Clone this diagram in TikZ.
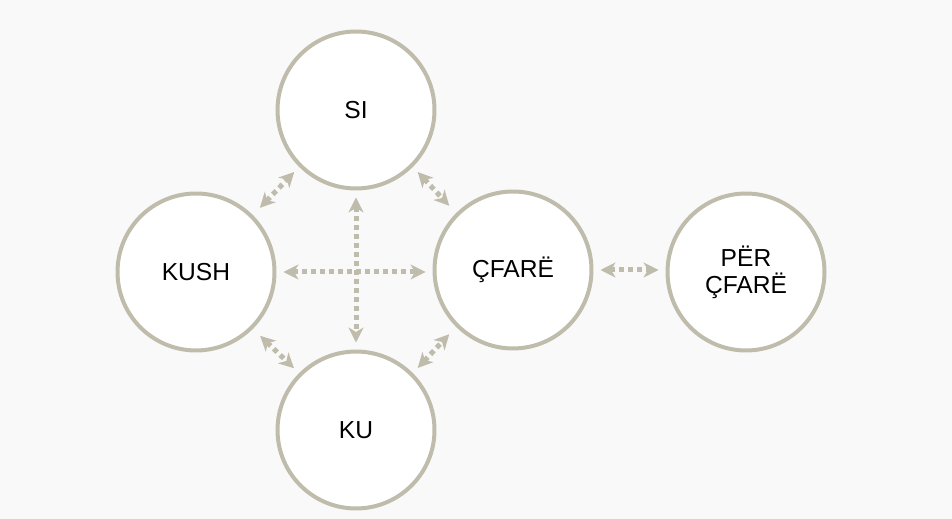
\documentclass[tikz,border=0pt]{standalone}
\usepackage{fontspec}
\setmainfont{Liberation Sans}
\usepackage{xcolor}
\usepackage{tikz}
\usetikzlibrary{arrows.meta}

\definecolor{ring}{RGB}{191,188,172}
\definecolor{paper}{RGB}{249,249,249}

\begin{document}
\begin{tikzpicture}[x=0.02cm, y=-0.02cm,
    word/.style={circle, draw=ring, fill=white, line width=0.08cm, minimum size=3.14cm,
      inner sep=0pt, align=center, font=\fontsize{14}{15.5}\selectfont},
    link/.style={draw=ring, line width=0.1cm, dash pattern=on 0.1cm off 0.08cm,
      {Stealth[length=8.5pt, width=8.5pt, inset=2.5pt]}-{Stealth[length=8.5pt, width=8.5pt, inset=2.5pt]},
      shorten <=0.14cm, shorten >=0.14cm}]
      \fill[paper] (0,0) rectangle (952,519);
      \useasboundingbox (0,0) rectangle (952,519);

      \node[word] (si) at (356,110){SI};
      \node[word] (kush) at (196,272){KUSH};
      \node[word] (cfare) at (513,270){ÇFARË};
      \node[word] (ku) at (356,430){KU};
      \node[word] (per) at (746,272){PËR\\ÇFARË};

      % long cross
      \draw[link] (kush.east) -- (kush.east -| cfare.west);
      \draw[link] (si.south) -- (si.south |- ku.north);
      \draw[link] (cfare.east) -- (cfare.east -| per.west);

      % short diagonals
      \draw[link, shorten <=0.2cm] (kush.45) -- (si.225);
      \draw[link, shorten >=0.2cm] (si.-45) -- (cfare.135);
      \draw[link, shorten <=0.2cm] (kush.-45) -- (ku.135);
      \draw[link, shorten >=0.2cm] (ku.45) -- (cfare.-135);
    \end{tikzpicture}
\end{document}
